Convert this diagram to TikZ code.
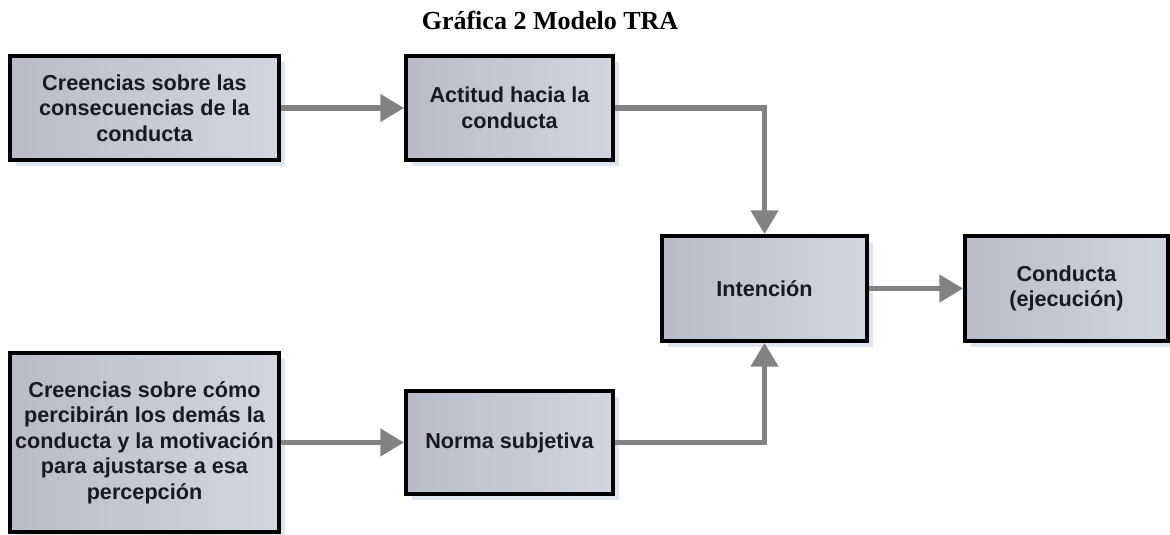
\documentclass[tikz,border=0pt]{standalone}
\usepackage{fontspec}
\setmainfont{Liberation Serif}
\setsansfont{Liberation Sans}
\usetikzlibrary{arrows.meta,shadows}

\definecolor{cajaosc}{RGB}{184,188,200}
\definecolor{cajacla}{RGB}{210,214,224}
\definecolor{sombra}{RGB}{222,229,241}
\definecolor{gris}{RGB}{130,130,130}
\definecolor{texto}{RGB}{25,25,35}

\tikzset{
  caja/.style={draw=black,line width=2.6pt,rectangle,left color=cajaosc,right color=cajacla,
    drop shadow={shadow xshift=0.15cm,shadow yshift=-0.15cm,fill=sombra,opacity=1},
    text=texto,align=center,inner sep=2pt,
    font=\sffamily\bfseries\fontsize{15.4}{18.2}\selectfont},
  flecha/.style={draw=gris,line width=4pt,-{Triangle[length=17pt,width=19pt]}}
}

\begin{document}
\begin{tikzpicture}
\useasboundingbox (0,0) rectangle (29.25,13.35);
\draw (13.75,12.85) node[font=\bfseries\fontsize{18.5}{22}\selectfont](titulo) {Gráfica 2 Modelo TRA};
\draw (3.6125,10.65) node[caja,minimum width=6.725cm,minimum height=2.6cm](creencias1) {Creencias sobre las\\consecuencias de la\\conducta};
\draw (12.7375,10.65) node[caja,minimum width=5.175cm,minimum height=2.6cm](actitud) {Actitud hacia la\\conducta};
\draw (19.1125,6.1375) node[caja,minimum width=5.125cm,minimum height=2.625cm](intencion) {Intención};
\draw (26.6625,6.1375) node[caja,minimum width=5.075cm,minimum height=2.625cm](conducta) {Conducta\\(ejecución)};
\draw (3.6125,2.2875) node[caja,minimum width=6.725cm,minimum height=4.475cm](creencias2) {Creencias sobre cómo\\percibirán los demás la\\conducta y la motivación\\para ajustarse a esa\\percepción};
\draw (12.7375,2.2875) node[caja,minimum width=5.175cm,minimum height=2.575cm](norma) {Norma subjetiva};
\draw[flecha] (creencias1) -- (actitud);
\draw[flecha] (actitud) -| (intencion);
\draw[flecha] (creencias2) -- (norma);
\draw[flecha] (norma) -| (intencion);
\draw[flecha] (intencion) -- (conducta);
\end{tikzpicture}
\end{document}
